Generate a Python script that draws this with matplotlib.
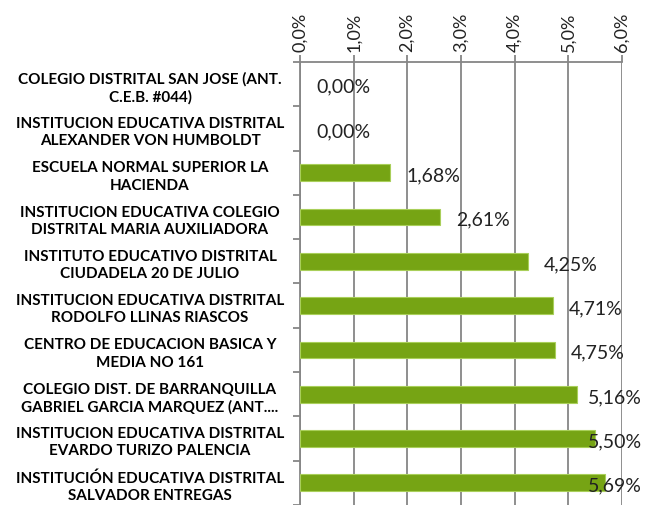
import matplotlib
matplotlib.use("Agg")
import matplotlib.pyplot as plt
from matplotlib.ticker import FixedLocator, NullFormatter

# data (top to bottom as shown)
schools = [
    "COLEGIO DISTRITAL SAN JOSE (ANT.\nC.E.B. #044)",
    "INSTITUCION EDUCATIVA DISTRITAL\nALEXANDER VON HUMBOLDT",
    "ESCUELA NORMAL SUPERIOR LA\nHACIENDA",
    "INSTITUCION EDUCATIVA COLEGIO\nDISTRITAL MARIA AUXILIADORA",
    "INSTITUTO EDUCATIVO DISTRITAL\nCIUDADELA 20 DE JULIO",
    "INSTITUCION EDUCATIVA DISTRITAL\nRODOLFO LLINAS RIASCOS",
    "CENTRO DE EDUCACION BASICA Y\nMEDIA NO 161",
    "COLEGIO DIST. DE BARRANQUILLA\nGABRIEL GARCIA MARQUEZ (ANT....",
    "INSTITUCION EDUCATIVA DISTRITAL\nEVARDO TURIZO PALENCIA",
    "INSTITUCIÓN EDUCATIVA DISTRITAL\nSALVADOR ENTREGAS",
]
values = [0.00, 0.00, 1.68, 2.61, 4.25, 4.71, 4.75, 5.16, 5.50, 5.69]
xticks = [0, 1, 2, 3, 4, 5, 6]

green = "#76A414"
grid_col = "#868686"

fig = plt.figure(figsize=(6.58, 5.06), dpi=100)
ax = fig.add_axes([0.456, 0.0, 0.489, 0.8755])

n = len(values)
ypos = list(range(n))
# no border on empty bars so nothing shows at zero
edge_w = [0.8 if v > 0 else 0 for v in values]
ax.barh(ypos, values, height=0.38, color=green, edgecolor="#A9CF5A", linewidth=edge_w, zorder=3)

ax.set_xlim(0, 6)
ax.set_ylim(n - 0.5, -0.5)

# x axis on top, rotated labels
ax.xaxis.set_ticks_position("top")
ax.xaxis.set_label_position("top")
ax.set_xticks(xticks)
ax.set_xticklabels([f"{t:.1f}%".replace(".", ",") for t in xticks],
                   rotation=90, fontsize=13, family="Lato", color="#222222")
ax.tick_params(axis="x", direction="out", length=5, color=grid_col, width=1.3, pad=3)
ax.grid(axis="x", color=grid_col, linewidth=1.3, zorder=0)

# y axis: labels centred, tick marks between categories
ax.set_yticks(ypos)
ax.set_yticklabels(schools, fontsize=11, fontweight="bold", family="Lato",
                   ha="center", multialignment="center", linespacing=1.3)
ax.tick_params(axis="y", length=0, pad=108)
ax.yaxis.set_minor_locator(FixedLocator([i - 0.5 for i in range(n + 1)]))
ax.yaxis.set_minor_formatter(NullFormatter())
ax.tick_params(axis="y", which="minor", direction="out", length=5, width=1.3, color=grid_col)

for s in ["right", "bottom"]:
    ax.spines[s].set_visible(False)
for s in ["top", "left"]:
    ax.spines[s].set_color(grid_col)
    ax.spines[s].set_linewidth(1.3)

# data labels
for y, v in zip(ypos, values):
    lx = min(v + 0.3, 5.36)
    ax.text(lx, y + 0.05, f"{v:.2f}%".replace(".", ","), va="center", ha="left",
            fontsize=14, family="Lato", color="#222222", zorder=4, clip_on=False)

fig.savefig("out.png", dpi=100)
